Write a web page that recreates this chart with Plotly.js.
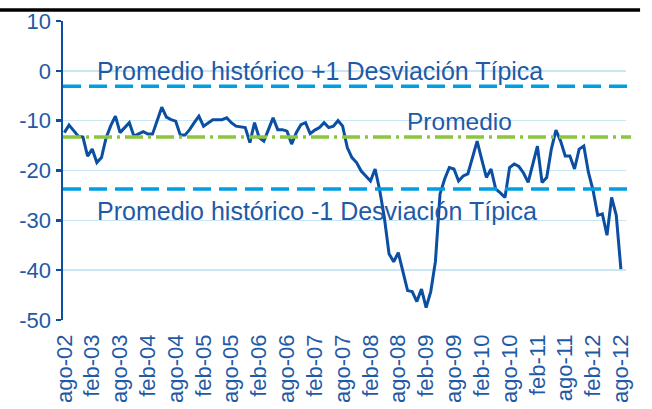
<!DOCTYPE html>
<html>
<head>
<meta charset="utf-8">
<script src="https://cdn.plot.ly/plotly-3.0.1.min.js"></script>
<style>
  html, body { margin: 0; padding: 0; background: #ffffff; }
  #chart { width: 652px; height: 409px; }
</style>
</head>
<body>
<div id="chart"></div>
<script>
// Monthly series, ago-02 .. ago-12 (121 months)
const values = [
  -12.4, -10.9, -12.0, -13.1, -13.3, -17.1, -15.7, -18.4, -17.4, -13.4,
  -11.0, -9.1, -12.4, -11.4, -10.4, -13.1, -12.6, -12.2, -12.7, -12.7,
  -10.0, -7.3, -9.3, -9.8, -10.1, -12.9, -12.9, -11.8, -10.4, -9.1,
  -11.1, -10.4, -9.8, -9.8, -9.8, -9.4, -10.4, -11.1, -11.2, -11.4,
  -14.4, -10.4, -13.4, -14.1, -11.8, -9.4, -11.8, -11.8, -12.1, -14.7,
  -12.4, -10.8, -10.4, -12.6, -11.9, -11.4, -10.4, -11.4, -11.1, -10.0,
  -11.1, -15.4, -17.4, -18.4, -20.1, -21.1, -22.1, -19.7, -24.0, -29.5,
  -36.7, -38.3, -36.5, -40.3, -44.1, -44.3, -46.3, -43.8, -47.5, -44.3,
  -38.3, -24.7, -21.7, -19.4, -19.7, -22.1, -21.1, -20.7, -17.4, -14.1,
  -17.8, -21.4, -19.7, -23.7, -24.5, -25.4, -19.4, -18.7, -19.2, -20.5,
  -22.4, -18.8, -15.1, -22.4, -21.4, -15.7, -11.9, -14.1, -17.1, -17.1,
  -19.7, -15.7, -15.1, -20.4, -24.0, -29.0, -28.7, -33.0, -25.4, -29.0,
  -39.8
];
const tickLabels = ["ago-02","feb-03","ago-03","feb-04","ago-04","feb-05","ago-05","feb-06","ago-06","feb-07","ago-07","feb-08","ago-08","feb-09","ago-09","feb-10","ago-10","feb-11","ago-11","feb-12","ago-12"];
const yTickVals = [10, 0, -10, -20, -30, -40, -50];
const yTickLabels = ["10", "0", "-10", "-20", "-30", "-40", "-50"];
const promedio = -13.3;
const masSD = -3.1;
const menosSD = -23.7;
const labelMas = "Promedio histórico +1 Desviación Típica";
const labelProm = "Promedio";
const labelMenos = "Promedio histórico -1 Desviación Típica";

const xs = values.map((_, i) => i);
const tickVals = tickLabels.map((_, i) => i * 6);

const blue = '#0B4EA2';
const textBlue = '#1F5AA6';
const lightBlue = '#009EE2';
const green = '#8CC63F';
const fam = 'Liberation Sans, Arial, sans-serif';

const trace = {
  x: xs, y: values, type: 'scatter', mode: 'lines',
  line: {color: blue, width: 3}, hoverinfo: 'skip', showlegend: false
};

const layout = {
  width: 652, height: 409,
  margin: {l: 63, r: 26, t: 21, b: 89},
  paper_bgcolor: '#ffffff', plot_bgcolor: '#ffffff',
  showlegend: false,
  xaxis: {
    range: [-0.3, 121.1], showgrid: false, zeroline: false, showline: false,
    tickmode: 'array', tickvals: tickVals, ticktext: tickLabels,
    tickangle: -90, ticks: '', ticklabelstandoff: 9,
    tickfont: {family: fam, size: 22, color: textBlue}
  },
  yaxis: {
    range: [-50, 10], tickmode: 'array', tickvals: yTickVals, ticktext: yTickLabels,
    showgrid: true, gridcolor: '#C8E6F5', gridwidth: 1.5,
    zeroline: false, showline: true, linecolor: blue, linewidth: 2.5,
    ticks: 'outside', ticklen: 5, tickwidth: 2.5, tickcolor: blue,
    ticklabelstandoff: 0,
    tickfont: {family: fam, size: 22, color: textBlue}
  },
  shapes: [
    {type: 'line', xref: 'paper', yref: 'y', x0: 0, x1: 1.009, y0: masSD, y1: masSD,
     line: {color: lightBlue, width: 3.5, dash: '18px,8px'}, layer: 'above'},
    {type: 'line', xref: 'paper', yref: 'y', x0: 0, x1: 1.009, y0: menosSD, y1: menosSD,
     line: {color: lightBlue, width: 3.5, dash: '18px,8px'}, layer: 'above'},
    {type: 'line', xref: 'paper', yref: 'y', x0: 0, x1: 1.009, y0: promedio, y1: promedio,
     line: {color: green, width: 3.5, dash: '18px,5px,3px,5px'}, layer: 'above'},
    {type: 'line', xref: 'paper', yref: 'paper', x0: -0.12, x1: 1.025, y0: 1.0368, y1: 1.0368,
     line: {color: '#000000', width: 3.5}}
  ],
  annotations: [
    {xref: 'paper', yref: 'y', x: (95 - 63) / 563, y: masSD + 3.0, xanchor: 'left', yanchor: 'middle',
     text: labelMas, showarrow: false,
     font: {family: fam, size: 25, color: textBlue}},
    {xref: 'paper', yref: 'y', x: (405 - 63) / 563, y: promedio + 3.1, xanchor: 'left', yanchor: 'middle',
     text: labelProm, showarrow: false,
     font: {family: fam, size: 24.5, color: textBlue}},
    {xref: 'paper', yref: 'y', x: (95 - 63) / 563, y: menosSD - 4.4, xanchor: 'left', yanchor: 'middle',
     text: labelMenos, showarrow: false,
     font: {family: fam, size: 25, color: textBlue}}
  ]
};

Plotly.newPlot('chart', [trace], layout, {displayModeBar: false, staticPlot: true});
</script>
</body>
</html>
